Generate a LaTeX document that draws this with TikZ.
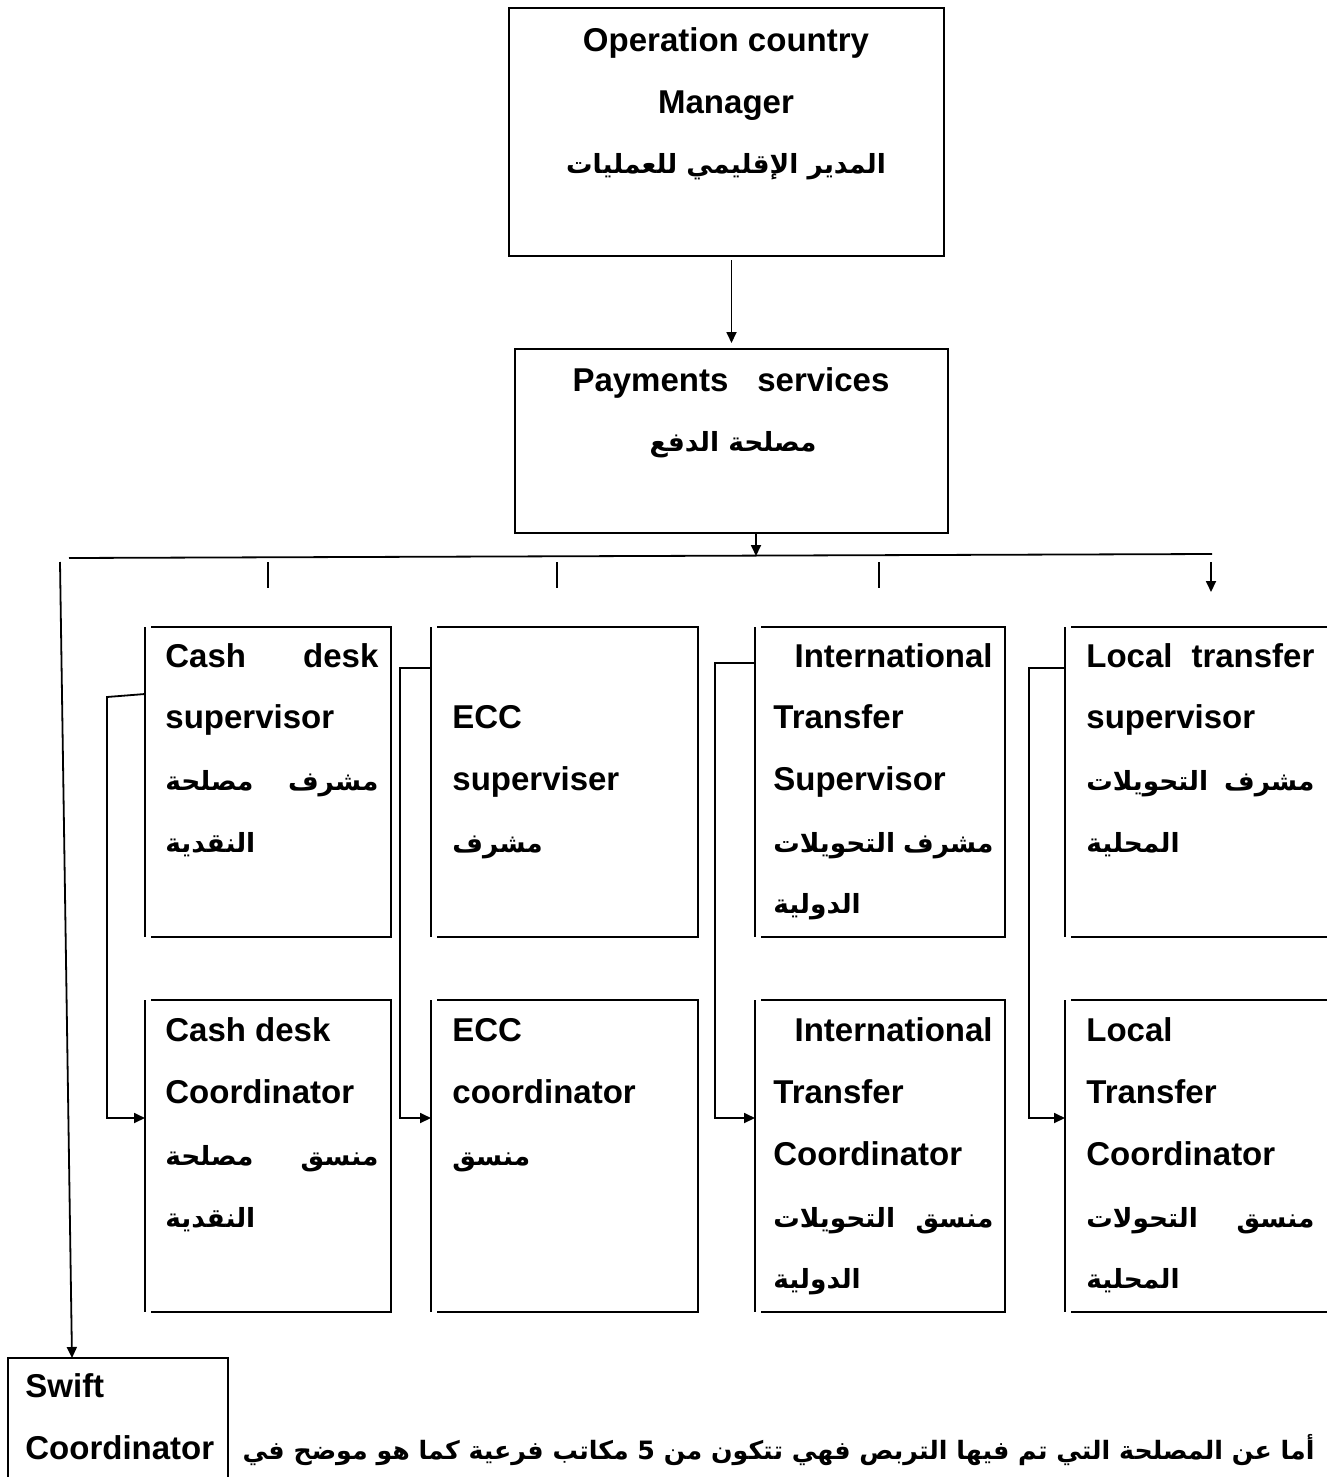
\documentclass[tikz,border=0pt]{standalone}
\usepackage{fontspec}
\setmainfont{Liberation Sans}
\newfontfamily\arabicfont[Script=Arabic,Scale=0.8]{DejaVu Sans}
\TeXXeTstate=1
\usetikzlibrary{arrows.meta,fit}

% Arabic run, right to left
\newcommand\ar[1]{{\arabicfont\beginR #1\endR}}
% a line spread over a fixed width: first word flush left, second flush right
\newcommand\jline[3]{\hbox to #1{#2\hfill #3}}

\tikzset{
  frame/.style={line width=1.3pt},
  lside/.style={line width=1pt},
  conn/.style={line width=0.9pt},
  arr/.style={conn,-{Triangle[length=5.5pt,width=5pt]}},
  holder/.style={inner sep=0pt,outer sep=0pt},
  lbl/.style={inner sep=0pt,font=\bfseries\fontsize{16.5}{18}\selectfont},
  prose/.style={inner sep=0pt,font=\bfseries\fontsize{15.8}{18}\selectfont},
}

% unit box: top, right and bottom edges, with the left edge drawn on its own
\newcommand\unitbox[5]{%
  \node[holder,fit={(#2,#3) (#4,#5)}] (#1) {};
  \draw[frame] ([xshift=3pt]#1.north west) -- (#1.north east) -- (#1.south east) -- ([xshift=3pt]#1.south west);
  \draw[lside] (#1.north west) -- (#1.south west);
}

\begin{document}
\begin{tikzpicture}[x=0.5pt,y=-0.5pt]
\useasboundingbox (0,0) rectangle (1327,1477);

% ---- head of operations
\node[holder,draw,frame,fit={(509,8) (944,256)}] (top) {};
\node[lbl,anchor=base] (top1) at (726,52) {Operation country};
\node[lbl,anchor=base] (top2) at (726,113) {Manager};
\node[lbl,anchor=base] (top3) at (726,173) {\ar{المدير الإقليمي للعمليات}};

% ---- payments services
\node[holder,draw,frame,fit={(515,349) (948,533)}] (pay) {};
\node[lbl,anchor=base] (pay1) at (731,391) {\jline{158.5pt}{Payments}{services}};
\node[lbl,anchor=base] (pay2) at (733,451) {\ar{مصلحة الدفع}};

\draw[arr,shorten <=2pt,shorten >=3pt] (pay.north |- top.south) -- (pay.north);

% ---- distribution line
\coordinate (busC) at (756,556);
\coordinate (busL) at (69,558);
\coordinate (busR) at (1212,554);
\draw[conn] (busL) -- (busR);
\draw[arr] (pay.south -| busC) -- (busC);

\coordinate (s1t) at (268,562); \coordinate (s1b) at (268,588);
\coordinate (s2t) at (557,562); \coordinate (s2b) at (557,588);
\coordinate (s3t) at (879,562); \coordinate (s3b) at (879,588);
\coordinate (s4t) at (1211,562); \coordinate (s4b) at (1211,592);
\draw[conn] (s1t) -- (s1b);
\draw[conn] (s2t) -- (s2b);
\draw[conn] (s3t) -- (s3b);
\draw[arr] (s4t) -- (s4b);

% ---- supervisors
\unitbox{sup1}{145}{627}{391}{937}
\unitbox{sup2}{431}{627}{698}{937}
\unitbox{sup3}{755}{627}{1005}{937}
\unitbox{sup4}{1065}{627}{1345}{937}

% ---- coordinators
\unitbox{coo1}{145}{1000}{391}{1312}
\unitbox{coo2}{431}{1000}{698}{1312}
\unitbox{coo3}{755}{1000}{1005}{1312}
\unitbox{coo4}{1065}{1000}{1345}{1312}

% texts, supervisors
\node[lbl,anchor=base west] (a1) at (165,667) {\jline{106.5pt}{Cash}{desk}};
\node[lbl,anchor=base west] (a2) at (165,728) {supervisor};
\node[lbl,anchor=base west] (a3) at (165,790) {\jline{106.5pt}{\ar{مصلحة}}{\ar{مشرف}}};
\node[lbl,anchor=base west] (a4) at (165,852) {\ar{النقدية}};

\node[lbl,anchor=base west] (b2) at (452,728) {ECC};
\node[lbl,anchor=base west] (b3) at (452,790) {superviser};
\node[lbl,anchor=base west] (b4) at (452,852) {\ar{مشرف}};

\node[lbl,anchor=base east] (d1) at (993,667) {International};
\node[lbl,anchor=base west] (d2) at (773,728) {Transfer};
\node[lbl,anchor=base west] (d3) at (773,790) {Supervisor};
\node[lbl,anchor=base west] (d4) at (773,852) {\jline{110pt}{\ar{التحويلات}}{\ar{مشرف}}};
\node[lbl,anchor=base west] (d5) at (773,913) {\ar{الدولية}};

\node[lbl,anchor=base west] (e1) at (1086,667) {\jline{114pt}{Local}{transfer}};
\node[lbl,anchor=base west] (e2) at (1086,728) {supervisor};
\node[lbl,anchor=base west] (e3) at (1086,790) {\jline{114pt}{\ar{التحويلات}}{\ar{مشرف}}};
\node[lbl,anchor=base west] (e4) at (1086,852) {\ar{المحلية}};

% texts, coordinators
\node[lbl,anchor=base west] (f1) at (165,1041) {Cash desk};
\node[lbl,anchor=base west] (f2) at (165,1103) {Coordinator};
\node[lbl,anchor=base west] (f3) at (165,1165) {\jline{106.5pt}{\ar{مصلحة}}{\ar{منسق}}};
\node[lbl,anchor=base west] (f4) at (165,1227) {\ar{النقدية}};

\node[lbl,anchor=base west] (g1) at (452,1041) {ECC};
\node[lbl,anchor=base west] (g2) at (452,1103) {coordinator};
\node[lbl,anchor=base west] (g3) at (452,1165) {\ar{منسق}};

\node[lbl,anchor=base east] (h1) at (993,1041) {International};
\node[lbl,anchor=base west] (h2) at (773,1103) {Transfer};
\node[lbl,anchor=base west] (h3) at (773,1165) {Coordinator};
\node[lbl,anchor=base west] (h4) at (773,1227) {\jline{110pt}{\ar{التحويلات}}{\ar{منسق}}};
\node[lbl,anchor=base west] (h5) at (773,1288) {\ar{الدولية}};

\node[lbl,anchor=base west] (k1) at (1086,1041) {Local};
\node[lbl,anchor=base west] (k2) at (1086,1103) {Transfer};
\node[lbl,anchor=base west] (k3) at (1086,1165) {Coordinator};
\node[lbl,anchor=base west] (k4) at (1086,1227) {\jline{114pt}{\ar{التحولات}}{\ar{منسق}}};
\node[lbl,anchor=base west] (k5) at (1086,1288) {\ar{المحلية}};

% ---- supervisor to coordinator links
\coordinate (p1a) at (107,697);  \coordinate (p1b) at (107,1118);
\coordinate (p2a) at (400,668);  \coordinate (p2b) at (400,1118);
\coordinate (p3a) at (715,663);  \coordinate (p3b) at (715,1118);
\coordinate (p4a) at (1029,668); \coordinate (p4b) at (1029,1118);
\draw[arr] ([yshift=-33.5pt]sup1.north west) -- (p1a) -- (p1b) -- (coo1.west |- p1b);
\draw[arr] ([yshift=-20.5pt]sup2.north west) -- (p2a) -- (p2b) -- (coo2.west |- p2b);
\draw[arr] ([yshift=-18pt]sup3.north west) -- (p3a) -- (p3b) -- (coo3.west |- p3b);
\draw[arr] ([yshift=-20.5pt]sup4.north west) -- (p4a) -- (p4b) -- (coo4.west |- p4b);

% ---- swift coordinator
\node[holder,draw,frame,fit={(8,1358) (228,1495)}] (swift) {};
\node[lbl,anchor=base west] (w1) at (25,1397) {Swift};
\node[lbl,anchor=base west] (w2) at (25,1459) {Coordinator};
\coordinate (swTop) at (60,562);
\draw[arr] (swTop) -- ([xshift=32pt]swift.north west);

% ---- closing sentence
\node[prose,anchor=base east] (para) at (1315,1459) {\ar{أما عن المصلحة التي تم فيها التربص فهي تتكون من 5 مكاتب فرعية كما هو موضح في}};
\end{tikzpicture}
\end{document}
